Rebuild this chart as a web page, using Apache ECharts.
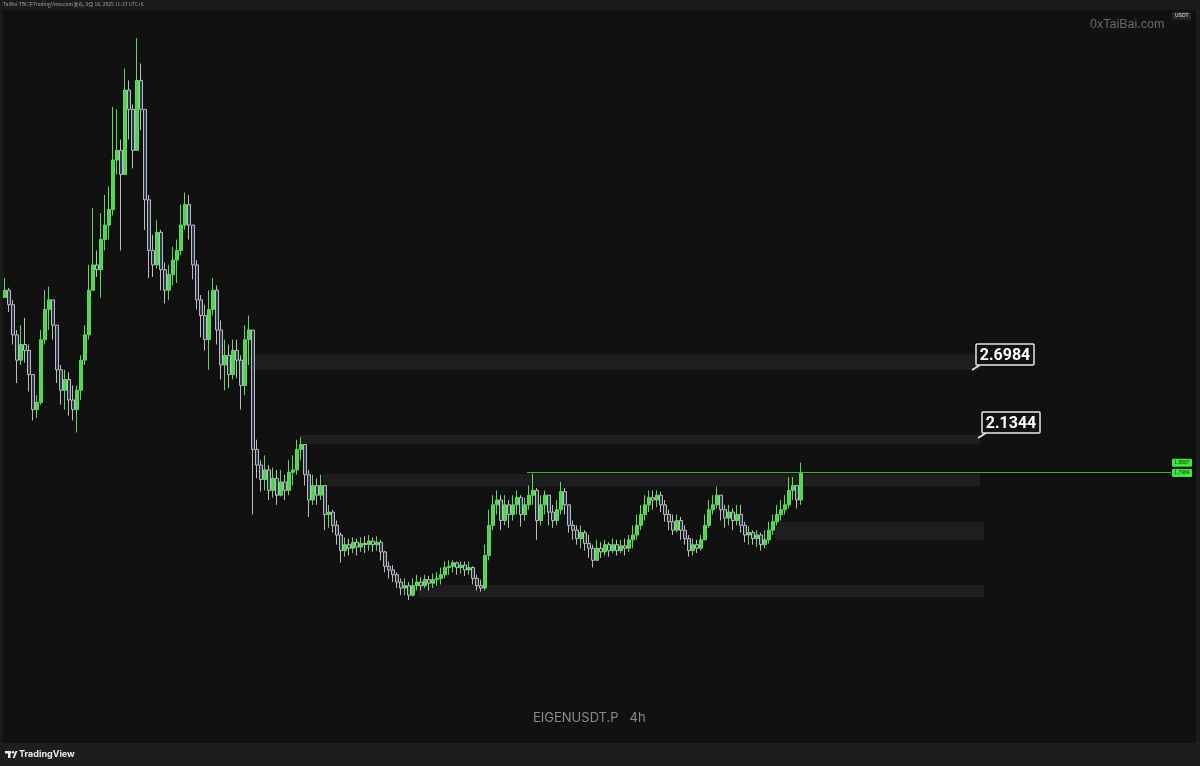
<!DOCTYPE html>
<html><head><meta charset="utf-8">
<script src="https://cdn.jsdelivr.net/npm/echarts@6/dist/echarts.min.js"></script>
<style>html,body{margin:0;padding:0;background:#111111;}#c{width:1200px;height:766px;}</style>
</head><body><div id="c"></div>
<script>
const closes = [
3.36,3.24,2.99,2.78,2.91,2.86,2.66,2.37,2.43,2.95,
3.20,3.28,3.07,2.70,2.53,2.62,2.45,2.37,2.53,2.78,
2.99,3.36,3.57,3.53,3.78,3.90,4.03,4.44,4.52,4.32,
5.02,4.86,4.52,5.10,4.86,4.11,3.69,3.57,3.84,3.53,
3.36,3.49,3.61,3.69,3.90,4.07,3.90,3.57,3.28,3.15,
2.95,3.20,3.36,3.03,2.74,2.82,2.66,2.86,2.78,2.57,
2.95,3.03,2.04,1.91,1.79,1.87,1.70,1.80,1.66,1.77,
1.70,1.85,1.87,2.04,2.08,1.83,1.62,1.74,1.66,1.74,
1.50,1.52,1.41,1.33,1.20,1.25,1.22,1.27,1.23,1.26,
1.25,1.28,1.25,1.27,1.19,1.07,1.04,1.00,0.94,0.89,
0.91,0.83,0.91,0.94,0.91,0.96,0.93,0.96,0.97,1.00,
1.06,1.07,1.10,1.06,1.08,1.04,1.06,0.97,0.91,0.89,
1.16,1.41,1.58,1.62,1.45,1.58,1.50,1.58,1.64,1.50,
1.58,1.66,1.70,1.45,1.58,1.66,1.52,1.45,1.54,1.69,
1.58,1.41,1.37,1.30,1.35,1.26,1.22,1.12,1.22,1.19,
1.25,1.20,1.25,1.20,1.24,1.22,1.29,1.33,1.41,1.50,
1.58,1.64,1.62,1.66,1.58,1.50,1.44,1.37,1.45,1.37,
1.30,1.20,1.25,1.22,1.29,1.41,1.54,1.58,1.66,1.54,
1.47,1.52,1.45,1.50,1.41,1.33,1.35,1.30,1.33,1.25,
1.29,1.37,1.44,1.50,1.54,1.58,1.70,1.74,1.62,1.84
];
const highs = [
3.46,3.38,3.28,3.03,3.07,3.13,2.91,2.66,2.49,3.03,
3.36,3.39,3.28,3.07,2.74,2.70,2.68,2.57,2.57,2.82,
3.07,3.57,4.04,3.69,4.00,4.15,4.22,4.88,4.86,4.61,
5.20,5.10,4.90,5.45,5.24,4.86,4.15,3.82,3.94,3.86,
3.59,3.57,3.72,3.78,4.07,4.17,4.15,3.90,3.61,3.32,
3.24,3.36,3.46,3.40,3.11,2.95,2.91,2.95,2.95,2.82,
3.07,3.15,3.03,2.12,1.95,1.99,1.91,1.89,1.87,1.87,
1.83,1.95,1.99,2.12,2.14,2.08,1.87,1.83,1.80,1.83,
1.74,1.58,1.54,1.45,1.35,1.31,1.30,1.31,1.30,1.31,
1.32,1.33,1.31,1.32,1.29,1.20,1.11,1.08,1.02,0.97,
0.97,0.94,0.97,1.00,0.98,1.00,0.99,1.01,1.02,1.06,
1.11,1.12,1.12,1.11,1.11,1.11,1.11,1.07,1.00,0.96,
1.25,1.54,1.66,1.70,1.66,1.66,1.62,1.66,1.70,1.66,
1.64,1.74,1.84,1.72,1.66,1.70,1.66,1.58,1.62,1.77,
1.72,1.58,1.45,1.41,1.41,1.37,1.33,1.25,1.29,1.27,
1.29,1.27,1.30,1.29,1.29,1.30,1.33,1.41,1.50,1.58,
1.66,1.70,1.70,1.70,1.69,1.62,1.54,1.50,1.50,1.48,
1.41,1.33,1.30,1.29,1.33,1.50,1.62,1.66,1.73,1.66,
1.58,1.58,1.55,1.58,1.58,1.44,1.40,1.37,1.37,1.35,
1.37,1.44,1.50,1.58,1.62,1.66,1.81,1.81,1.74,1.93
];
const lows = [
3.30,3.18,2.91,2.59,2.74,2.76,2.52,2.28,2.30,2.41,
2.91,3.03,2.95,2.59,2.41,2.37,2.32,2.28,2.18,2.45,
2.74,2.95,3.36,3.47,3.30,3.69,3.78,3.98,4.32,3.69,
4.32,4.61,4.37,4.52,4.69,3.86,3.46,3.47,3.54,3.36,
3.25,3.28,3.40,3.42,3.65,3.86,3.78,3.45,3.20,2.97,
2.86,2.70,3.15,2.91,2.62,2.53,2.55,2.62,2.63,2.37,
2.49,2.74,1.50,1.80,1.69,1.70,1.62,1.64,1.58,1.65,
1.62,1.66,1.74,1.83,1.95,1.74,1.48,1.58,1.58,1.62,
1.37,1.39,1.35,1.25,1.10,1.15,1.16,1.18,1.16,1.19,
1.18,1.20,1.19,1.20,1.12,1.02,0.97,0.94,0.89,0.83,
0.83,0.79,0.82,0.87,0.87,0.89,0.87,0.89,0.91,0.92,
0.97,1.00,1.02,1.00,1.01,0.99,1.00,0.92,0.87,0.86,
0.87,1.12,1.37,1.50,1.37,1.41,1.39,1.45,1.50,1.40,
1.45,1.54,1.58,1.29,1.41,1.50,1.41,1.39,1.41,1.50,
1.50,1.35,1.29,1.25,1.22,1.20,1.14,1.06,1.14,1.14,
1.16,1.15,1.18,1.16,1.18,1.16,1.19,1.22,1.29,1.37,
1.45,1.52,1.54,1.56,1.52,1.44,1.37,1.33,1.35,1.29,
1.25,1.15,1.16,1.18,1.20,1.29,1.39,1.50,1.55,1.45,
1.39,1.41,1.37,1.41,1.35,1.27,1.25,1.25,1.23,1.20,
1.22,1.26,1.33,1.41,1.45,1.50,1.55,1.62,1.55,1.58
];
const firstOpen = 3.30;
const totalSlots = 292; // candle slots incl. empty right margin

// Grey supply/demand zones: [fromSlot, toSlot, lowPrice, highPrice]
const zoneFrom = [61.25, 73.75, 79.5, 192.5, 103.25];
const zoneTo   = [243.75, 243.75, 243.75, 244.75, 244.75];
const zoneLow  = [2.6984, 2.085, 1.73, 1.29, 0.815];
const zoneHigh = [2.83, 2.16, 1.835, 1.44, 0.915];

// Callout price labels
const calloutLevels = [2.6984, 2.1344];
const calloutSlot = [241.75, 243.25];
const calloutText = ['2.6984', '2.1344'];

// Horizontal green ray
const rayLevel = 1.85;
const raySlot = 130.5;

// Right-scale price tags
const tagText = ['1.8887', '1.7984'];
const tagLevel = [1.93, 1.845];

const yMin = -0.395, yMax = 5.684;

// ---- build ----
const candles = closes.map((c, i) => {
  const o = i === 0 ? firstOpen : closes[i - 1]; // open = previous close
  const h = Math.max(highs[i], o, c);
  const l = Math.min(lows[i], o, c);
  return [o, c, l, h];
});
const slots = Array.from({length: totalSlots}, (_, i) => String(i));
const zoneData = zoneFrom.map((f, i) => [f, zoneTo[i], zoneLow[i], zoneHigh[i]]);

const chart = echarts.init(document.getElementById('c'), null, {renderer: 'canvas'});
chart.setOption({
  backgroundColor: '#111111',
  animation: false,
  grid: {left: 3, right: 29, top: 10, bottom: 23},
  xAxis: [
    {type: 'category', data: slots, show: false, boundaryGap: true},
    {type: 'value', min: -0.5, max: totalSlots - 0.5, show: false}
  ],
  yAxis: {type: 'value', min: yMin, max: yMax, show: false, splitLine: {show: false}},
  series: [
    {
      type: 'custom', xAxisIndex: 1, silent: true, z: 1, data: zoneData,
      renderItem(params, api) {
        const a = api.coord([api.value(0), api.value(3)]);
        const b = api.coord([api.value(1), api.value(2)]);
        return {type: 'rect', shape: {x: a[0], y: a[1], width: b[0] - a[0], height: b[1] - a[1]},
                style: {fill: '#1e1e1e'}};
      }
    },
    {
      type: 'custom', xAxisIndex: 1, silent: true, z: 2, data: [[raySlot, rayLevel]],
      renderItem(params, api) {
        const a = api.coord([api.value(0), api.value(1)]);
        const right = params.coordSys.x + params.coordSys.width;
        return {type: 'line', shape: {x1: a[0], y1: Math.round(a[1]) + 0.5, x2: right, y2: Math.round(a[1]) + 0.5},
                style: {stroke: '#3fae3f', lineWidth: 1}};
      }
    },
    {
      type: 'candlestick', xAxisIndex: 0, z: 3, data: candles, barWidth: 3,
      itemStyle: {color: '#4fd44f', color0: '#2a3550', borderColor: '#5edc5e', borderColor0: '#bdbdbd', borderWidth: 1}
    },
    {
      type: 'custom', xAxisIndex: 1, silent: true, z: 5, clip: false,
      data: calloutLevels.map((v, i) => [calloutSlot[i], v]),
      renderItem(params, api) {
        const tip = api.coord([api.value(0), api.value(1)]);
        const bw = 58, bh = 21;
        const bx = tip[0] + 4, by = tip[1] - 5 - bh;
        return {type: 'group', children: [
          {type: 'line', shape: {x1: tip[0], y1: tip[1], x2: bx + 4, y2: by + bh}, style: {stroke: '#e8e8e8', lineWidth: 1.5}},
          {type: 'rect', shape: {x: bx, y: by, width: bw, height: bh, r: 1},
           style: {fill: '#121212', stroke: '#e8e8e8', lineWidth: 1.5}},
          {type: 'text', style: {x: bx + bw / 2, y: by + bh / 2 + 1, text: calloutText[params.dataIndex],
            fill: '#ffffff', font: 'bold 16px Roboto, "Liberation Sans", sans-serif', align: 'center', verticalAlign: 'middle'}}
        ]};
      }
    },
    {
      type: 'custom', xAxisIndex: 1, silent: true, z: 6, clip: false,
      data: tagLevel.map((v) => [totalSlots - 1, v]),
      renderItem(params, api) {
        const p = api.coord([api.value(0), api.value(1)]);
        const x = params.coordSys.x + params.coordSys.width + 1;
        return {type: 'group', children: [
          {type: 'rect', shape: {x: x, y: p[1] - 4, width: 20, height: 8, r: 1}, style: {fill: '#3ee83e'}},
          {type: 'text', style: {x: x + 10, y: p[1], text: tagText[params.dataIndex], fill: '#0b3a0b',
            font: '5px "Liberation Sans", sans-serif', align: 'center', verticalAlign: 'middle'}}
        ]};
      }
    }
  ],
  graphic: [
    {type: 'rect', left: 0, top: 0, shape: {width: 1200, height: 10}, style: {fill: '#1a1a1a'}, z: 10},
    {type: 'text', left: 3, top: 2, style: {text: 'TaiBai-TBC于TradingView.com发布, 9月 18, 2025 11:13 UTC+8',
      fill: '#a0a0a0', font: '5px "Noto Sans CJK SC", sans-serif'}, z: 11},
    {type: 'rect', left: 0, top: 10, shape: {width: 3, height: 733}, style: {fill: '#1b1b1b'}, z: 10},
    {type: 'rect', left: 1196, top: 10, shape: {width: 4, height: 733}, style: {fill: '#1b1b1b'}, z: 10},
    {type: 'text', left: 1090, top: 18, style: {text: '0xTaiBai.com', fill: '#6a6a6a',
      font: '12.5px "Liberation Sans", sans-serif'}, z: 11},
    {type: 'rect', left: 1172, top: 12, shape: {width: 19, height: 8, r: 1}, style: {fill: '#262626'}, z: 11},
    {type: 'text', left: 1175, top: 13.5, style: {text: 'USDT', fill: '#e0e0e0', font: '5px "Liberation Sans", sans-serif'}, z: 12},
    {type: 'text', left: 533, top: 712, style: {text: 'EIGENUSDT.P   4h', fill: '#8a8a8a',
      font: '13px Inter, "Liberation Sans", sans-serif'}, z: 11},
    {type: 'rect', left: 0, top: 743, shape: {width: 1200, height: 23}, style: {fill: '#1d1d1d'}, z: 10},
    {type: 'rect', left: 5, top: 751, shape: {width: 6, height: 2.5}, style: {fill: '#ececec'}, z: 11},
    {type: 'rect', left: 8, top: 751, shape: {width: 2.5, height: 7}, style: {fill: '#ececec'}, z: 11},
    {type: 'circle', shape: {cx: 13, cy: 752.3, r: 1.3}, style: {fill: '#ececec'}, z: 11},
    {type: 'polygon', shape: {points: [[12.5, 758], [15.5, 751], [17.5, 751], [14.5, 758]]}, style: {fill: '#ececec'}, z: 11},
    {type: 'text', left: 19, top: 750, style: {text: 'TradingView', fill: '#ececec',
      font: 'bold 9px Inter, "Liberation Sans", sans-serif'}, z: 11}
  ]
});
</script>
</body></html>
